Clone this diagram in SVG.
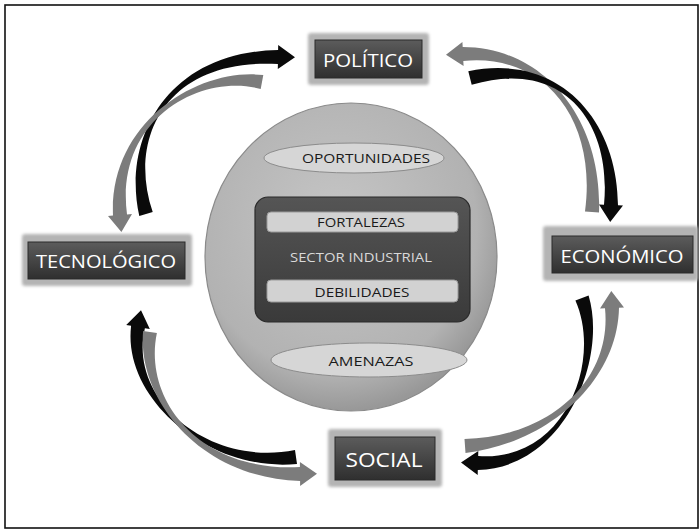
<svg xmlns="http://www.w3.org/2000/svg" width="699" height="530" viewBox="0 0 699 530">
<defs>
<radialGradient id="sphere" cx="0.45" cy="0.4" r="0.6">
<stop offset="0" stop-color="#c6c6c6"/>
<stop offset="0.8" stop-color="#b2b2b2"/>
<stop offset="1" stop-color="#989898"/>
</radialGradient>
<linearGradient id="darkbox" x1="0" y1="0" x2="0" y2="1">
<stop offset="0" stop-color="#5c5c5c"/>
<stop offset="1" stop-color="#2f2f2f"/>
</linearGradient>
<linearGradient id="core" x1="0" y1="0" x2="0" y2="1">
<stop offset="0" stop-color="#555"/>
<stop offset="1" stop-color="#3a3a3a"/>
</linearGradient>
<filter id="soft" x="-10%" y="-20%" width="120%" height="140%">
<feGaussianBlur stdDeviation="1.8"/>
</filter>
</defs>
<style>
.frame{fill:#fff;stroke:#111;stroke-width:1.6}
.glow{fill:#b4b4b4;filter:url(#soft)}
.box{fill:url(#darkbox);stroke:#2a2a2a;stroke-width:1}
.ntext{font-family:"Open Sans","Noto Sans",sans-serif;fill:#fff;text-anchor:middle}
.itext{font-family:"Open Sans","Noto Sans",sans-serif;fill:#1a1a1a;text-anchor:middle;font-size:13px}
.oval{fill:#d6d6d6;stroke:#8c8c8c;stroke-width:1}
.bar{fill:#d2d2d2;stroke:#9a9a9a;stroke-width:1}
.blk{fill:#0a0a0a}
.gry{fill:#7c7c7c}
</style>
<rect class="frame" x="5" y="5" width="693" height="523"/>

<g id="connectors">
<path class="blk" d="M152.7,212.1 C127.7,139.2 165,57.8 277.9,64 L277.8,69 L295,57.3 L278.2,45 L278.1,50 C165,52.2 122.3,140.8 139.3,215.9 Z"/>
<path class="gry" d="M263.3,75.1 C200.5,67.3 109.2,120.2 113,215.6 L108,216 L121.4,231.9 L132,214 L127,214.4 C114.8,119.8 199.5,72.8 260.7,88.9 Z"/>
<path class="gry" d="M599,212.6 C602.8,120.2 544.9,47.2 462.7,47 L462.4,42 L446,54.8 L463.6,66 L463.3,61 C545.1,52.8 597.2,119.8 585,211.4 Z"/>
<path class="blk" d="M471.7,84.8 C560.7,57.7 612.2,119.9 604,204.7 L599,204.4 L610.2,222 L623,205.6 L618,205.3 C617.8,120.1 559.3,52.3 468.3,71.2 Z"/>
<path class="blk" d="M575.4,300.4 C602.4,361 565.1,462.2 478.2,456 L478.3,451 L461,462.6 L477.7,475 L477.8,470 C564.9,467.8 607.6,359 588.6,295.6 Z"/>
<path class="gry" d="M465.5,453 C550.2,442.8 617.8,379.9 619,307.7 L624,307.5 L611.3,291 L600,308.5 L605,308.3 C612.2,380.1 549.8,437.2 464.5,439 Z"/>
<path class="blk" d="M295,450.1 C209.6,467.2 127.8,400.5 144.9,328.2 L149.8,329.1 L141,310.3 L126.2,324.9 L131.1,325.8 C122.2,399.5 210.4,472.8 297,463.9 Z"/>
<path class="gry" d="M143.1,331 C137.2,399.6 200,477.8 300.1,481 L300.1,486 L317,473.8 L299.9,462 L299.9,467 C200,472.2 142.8,400.4 156.9,333 Z"/>
</g>

<g id="node-center">
<ellipse cx="351" cy="257" rx="146" ry="154" fill="url(#sphere)" stroke="#8a8a8a" stroke-width="1.2"/>
<ellipse class="oval" cx="354" cy="158" rx="90" ry="15"/>
<text class="itext" x="366" y="163" textLength="128" lengthAdjust="spacingAndGlyphs">OPORTUNIDADES</text>
<rect x="255" y="197" width="215" height="125" rx="13" fill="url(#core)" stroke="#2a2a2a" stroke-width="1.2"/>
<rect class="bar" x="267" y="212" width="191" height="20" rx="4"/>
<text class="itext" x="361" y="227" textLength="88" lengthAdjust="spacingAndGlyphs">FORTALEZAS</text>
<text class="itext" x="361" y="262" style="fill:#d9d9d9" textLength="142" lengthAdjust="spacingAndGlyphs">SECTOR INDUSTRIAL</text>
<rect class="bar" x="267" y="280" width="191" height="22" rx="4"/>
<text class="itext" x="362" y="297" textLength="95" lengthAdjust="spacingAndGlyphs">DEBILIDADES</text>
<ellipse class="oval" cx="369" cy="360" rx="98" ry="17"/>
<text class="itext" x="371" y="366" textLength="85" lengthAdjust="spacingAndGlyphs">AMENAZAS</text>
</g>

<g id="node-politico">
<rect class="glow" x="308" y="33" width="121" height="52" rx="3"/>
<rect class="box" x="315" y="40" width="107" height="38"/>
<text class="ntext" x="368" y="67" font-size="18" textLength="90" lengthAdjust="spacingAndGlyphs">POLÍTICO</text>
</g>

<g id="node-tecnologico">
<rect class="glow" x="22" y="234" width="170" height="52" rx="3"/>
<rect class="box" x="28" y="242" width="157" height="37"/>
<text class="ntext" x="106" y="268" font-size="18" textLength="140" lengthAdjust="spacingAndGlyphs">TECNOLÓGICO</text>
</g>

<g id="node-economico">
<rect class="glow" x="543" y="226" width="155" height="55" rx="3"/>
<rect class="box" x="552" y="236" width="141" height="37"/>
<text class="ntext" x="622" y="263" font-size="18" textLength="123" lengthAdjust="spacingAndGlyphs">ECONÓMICO</text>
</g>

<g id="node-social">
<rect class="glow" x="328" y="429" width="114" height="58" rx="3"/>
<rect class="box" x="335" y="437" width="100" height="43"/>
<text class="ntext" x="384" y="467" font-size="20" textLength="77" lengthAdjust="spacingAndGlyphs">SOCIAL</text>
</g>
</svg>
